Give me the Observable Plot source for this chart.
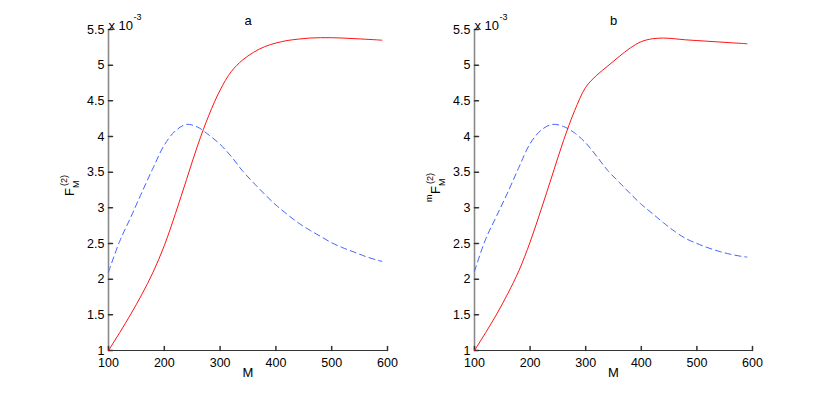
<!DOCTYPE html>
<html><head><meta charset="utf-8">
<script src="https://cdn.jsdelivr.net/npm/d3@7"></script>
<script src="https://cdn.jsdelivr.net/npm/@observablehq/plot@0.6"></script>
<style>
body{margin:0;background:#fff;}
#wrap{position:relative;width:830px;height:395px;overflow:hidden;}
#wrap svg{position:absolute;top:0;}
</style></head><body><div id="wrap"></div>
<script>
// M values (x)
const M = [100,120,140,160,180,200,220,240,260,280,300,320,340,360,380,400,420,440,460,480,500,520,540,560,580,590];
// panel a (values in units of 1e-3)
const redA  = [1.00,1.25,1.51,1.79,2.10,2.47,2.92,3.40,3.88,4.30,4.65,4.91,5.07,5.18,5.26,5.31,5.345,5.365,5.38,5.385,5.385,5.38,5.372,5.364,5.355,5.35];
const blueA = [2.10,2.53,2.87,3.22,3.56,3.88,4.08,4.17,4.13,4.02,3.89,3.72,3.52,3.35,3.19,3.04,2.91,2.79,2.69,2.60,2.51,2.44,2.38,2.32,2.27,2.25];
// panel b
const redB  = [1.00,1.25,1.51,1.80,2.12,2.52,2.98,3.46,3.94,4.36,4.69,4.86,4.99,5.12,5.24,5.33,5.37,5.38,5.37,5.355,5.345,5.335,5.325,5.315,5.305,5.30];
const blueB = [2.11,2.56,2.89,3.22,3.57,3.90,4.09,4.17,4.14,4.05,3.91,3.72,3.52,3.36,3.20,3.05,2.92,2.79,2.67,2.57,2.50,2.44,2.39,2.35,2.32,2.31];

const xTicks = [100,200,300,400,500,600];
const yTicks = [1,1.5,2,2.5,3,3.5,4,4.5,5,5.5];
const titles = ["a","b"];
const xLabel = "M";
const expBase = "x 10", expPower = "-3";

const font = "'Liberation Sans', Arial, Helvetica, sans-serif";
const tickShape = {draw(ctx, l) { ctx.moveTo(0, 0); ctx.lineTo(0, -l); }};

function panel({red, blue, title, left, marginLeft, marginRight, ylab}) {
  const rows = M.map((m, i) => ({M: m, red: red[i], blue: blue[i]}));
  const marks = [
    Plot.axisX({ticks: xTicks, tickSize: 0, tickPadding: 8, label: null, fontSize: 12.5, tickFormat: d => String(d)}),
    Plot.axisY({ticks: yTicks, tickSize: 0, tickPadding: 4, label: null, fontSize: 12.5, tickFormat: d => String(d)}),
    Plot.ruleX([xTicks[0]], {stroke: "#8a8a8a", strokeWidth: 1.6}),
    Plot.ruleY([yTicks[0]], {stroke: "#333", strokeWidth: 1}),
    Plot.vector(yTicks, {x: xTicks[0], y: d => d, length: 4, rotate: 90, anchor: "start", shape: tickShape, stroke: "#333"}),
    Plot.vector(xTicks, {x: d => d, y: yTicks[0], length: 4, rotate: 0, anchor: "start", shape: tickShape, stroke: "#333"}),
    Plot.line(rows, {x: "M", y: "blue", stroke: "#4262ff", strokeWidth: 1, strokeDasharray: "6,4", curve: "catmull-rom"}),
    Plot.line(rows, {x: "M", y: "red", stroke: "#ff1414", strokeWidth: 1, curve: "catmull-rom"}),
    Plot.text([title], {frameAnchor: "top", dy: -14, fontSize: 13}),
    Plot.text([expBase], {frameAnchor: "top-left", textAnchor: "start", dy: -9, fontSize: 13}),
    Plot.text([expPower], {frameAnchor: "top-left", textAnchor: "start", dx: 25, dy: -16, fontSize: 9}),
    Plot.text([xLabel], {frameAnchor: "bottom", dy: 26, fontSize: 13}),
    ...ylab.map(p => Plot.text([p.t], {frameAnchor: "left", rotate: -90, dx: p.dx, dy: p.dy, fontSize: p.fs}))
  ];
  const svg = Plot.plot({
    width: 415, height: 395,
    marginLeft, marginRight, marginTop: 29, marginBottom: 45,
    style: {fontFamily: font, fontSize: "13px", color: "#000", background: "transparent"},
    x: {domain: [100, 600]},
    y: {domain: [1, 5.5]},
    marks
  });
  svg.style.left = left + "px";
  document.getElementById("wrap").appendChild(svg);
}

panel({red: redA, blue: blueA, title: titles[0], left: 0, marginLeft: 108, marginRight: 28,
  ylab: [
    {t: "F", dx: -39, dy: 6, fs: 13},
    {t: "(2)", dx: -44, dy: -4, fs: 9},
    {t: "M", dx: -32, dy: -2, fs: 9}
  ]});
panel({red: redB, blue: blueB, title: titles[1], left: 415, marginLeft: 59, marginRight: 78,
  ylab: [
    {t: "m", dx: -45, dy: 12, fs: 9},
    {t: "F", dx: -39, dy: 4, fs: 13},
    {t: "(2)", dx: -44, dy: -6, fs: 9},
    {t: "M", dx: -32, dy: -4, fs: 9}
  ]});
</script></body></html>
